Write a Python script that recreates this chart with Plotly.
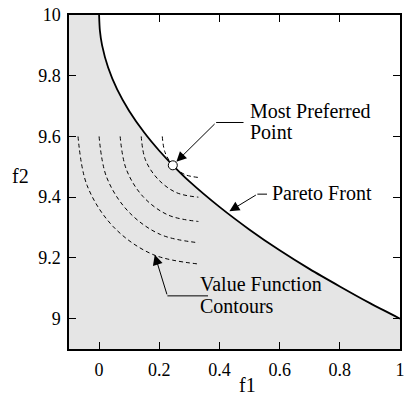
import plotly.graph_objects as go

# Pareto front
front_f1 = [0.0, 0.0025, 0.01, 0.03, 0.06, 0.1, 0.15, 0.2, 0.25, 0.3, 0.4, 0.5, 0.6, 0.7, 0.8, 0.9, 1.0]
front_f2 = [10.0, 9.95, 9.90, 9.827, 9.755, 9.684, 9.613, 9.553, 9.50, 9.452, 9.368, 9.293, 9.225, 9.163, 9.106, 9.051, 9.0]

# Value function contours
contours_f1 = [
    [-0.07, -0.04, 0.047, 0.177, 0.33],
    [0.0, 0.025, 0.097, 0.204, 0.33],
    [0.07, 0.09, 0.146, 0.23, 0.33],
    [0.14, 0.154, 0.196, 0.257, 0.33],
    [0.21, 0.219, 0.245, 0.284, 0.33],
]
contours_f2 = [
    [9.6, 9.439, 9.303, 9.212, 9.18],
    [9.6, 9.466, 9.353, 9.277, 9.25],
    [9.6, 9.493, 9.402, 9.341, 9.32],
    [9.6, 9.523, 9.459, 9.415, 9.40],
    [9.6, 9.548, 9.505, 9.475, 9.465],
]

preferred = (0.245, 9.505)

x_range = [-0.1, 1.0]
y_range = [8.9, 10.0]
x_ticks = [0, 0.2, 0.4, 0.6, 0.8, 1]
x_ticktext = ["0", "0.2", "0.4", "0.6", "0.8", "1"]
y_ticks = [9, 9.2, 9.4, 9.6, 9.8, 10]
y_ticktext = ["9", "9.2", "9.4", "9.6", "9.8", "10"]

FONT = "Liberation Serif"
fig = go.Figure()

# Feasible region fill
fill_x = [x_range[0], x_range[0]] + front_f1 + [x_range[1]]
fill_y = [y_range[0], y_range[1]] + front_f2 + [y_range[0]]
fig.add_trace(go.Scatter(x=fill_x, y=fill_y, fill="toself", fillcolor="rgb(229,229,229)",
                         line=dict(width=0), mode="lines", hoverinfo="skip", showlegend=False))

for cx, cy in zip(contours_f1, contours_f2):
    fig.add_trace(go.Scatter(x=cx, y=cy, mode="lines",
                             line=dict(color="black", width=1, dash="4px,3px", shape="spline"),
                             showlegend=False))

fig.add_trace(go.Scatter(x=front_f1, y=front_f2, mode="lines",
                         line=dict(color="black", width=1.8, shape="spline", smoothing=0.6),
                         showlegend=False))

fig.add_trace(go.Scatter(x=[preferred[0]], y=[preferred[1]], mode="markers",
                         marker=dict(size=9, color="white", line=dict(color="black", width=1)),
                         showlegend=False))

# leader lines
leaders = [
    ((0.389, 9.646), (0.480, 9.646)),
    ((0.526, 9.410), (0.558, 9.410)),
    ((0.227, 9.075), (0.362, 9.075)),
]
for (a, b) in leaders:
    fig.add_shape(type="line", x0=a[0], y0=a[1], x1=b[0], y1=b[1], line=dict(color="black", width=1))

arrows = [
    ((0.389, 9.646), preferred, 5),
    ((0.526, 9.410), (0.433, 9.354), 0),
    ((0.227, 9.075), (0.185, 9.210), 0),
]
for tail, tip, so in arrows:
    fig.add_annotation(x=tip[0], y=tip[1], ax=tail[0], ay=tail[1], axref="x", ayref="y",
                       xref="x", yref="y", text="", showarrow=True, arrowhead=2,
                       arrowsize=2, arrowwidth=1, arrowcolor="black", standoff=so)

labels = [
    ("Most Preferred", 0.495, 9.684),
    ("Point", 0.495, 9.614),
    ("Pareto Front", 0.567, 9.415),
    ("Value Function", 0.329, 9.115),
    ("Contours", 0.329, 9.041),
]
for t, lx, ly in labels:
    fig.add_annotation(x=lx, y=ly, xref="x", yref="y", text=t, showarrow=False,
                       xanchor="left", yanchor="middle",
                       font=dict(family=FONT, size=20, color="black"))

fig.add_annotation(x=0.493, y=-0.108, xref="x", yref="paper", text="f1", showarrow=False,
                   xanchor="center", yanchor="middle", borderpad=0,
                   font=dict(family=FONT, size=20, color="black"))
fig.add_annotation(x=-0.146, y=9.47, xref="paper", yref="y", text="f2", showarrow=False,
                   xanchor="center", yanchor="middle", font=dict(family=FONT, size=20, color="black"))

axis_common = dict(showgrid=False, zeroline=False, showline=True, linecolor="black", linewidth=1.5,
                   ticks="inside", ticklen=7, tickwidth=1, tickcolor="black", mirror="ticks",
                   tickfont=dict(family=FONT, size=18, color="black"))
fig.update_xaxes(range=x_range, tickvals=x_ticks, ticktext=x_ticktext, ticklabelstandoff=4, **axis_common)
fig.update_yaxes(range=y_range, tickvals=y_ticks, ticktext=y_ticktext, ticklabelstandoff=3, **axis_common)

fig.update_layout(width=410, height=397, margin=dict(l=69, r=5, t=14, b=48),
                  plot_bgcolor="white", paper_bgcolor="white", showlegend=False,
                  font=dict(family=FONT))

fig.write_html("out.html")
